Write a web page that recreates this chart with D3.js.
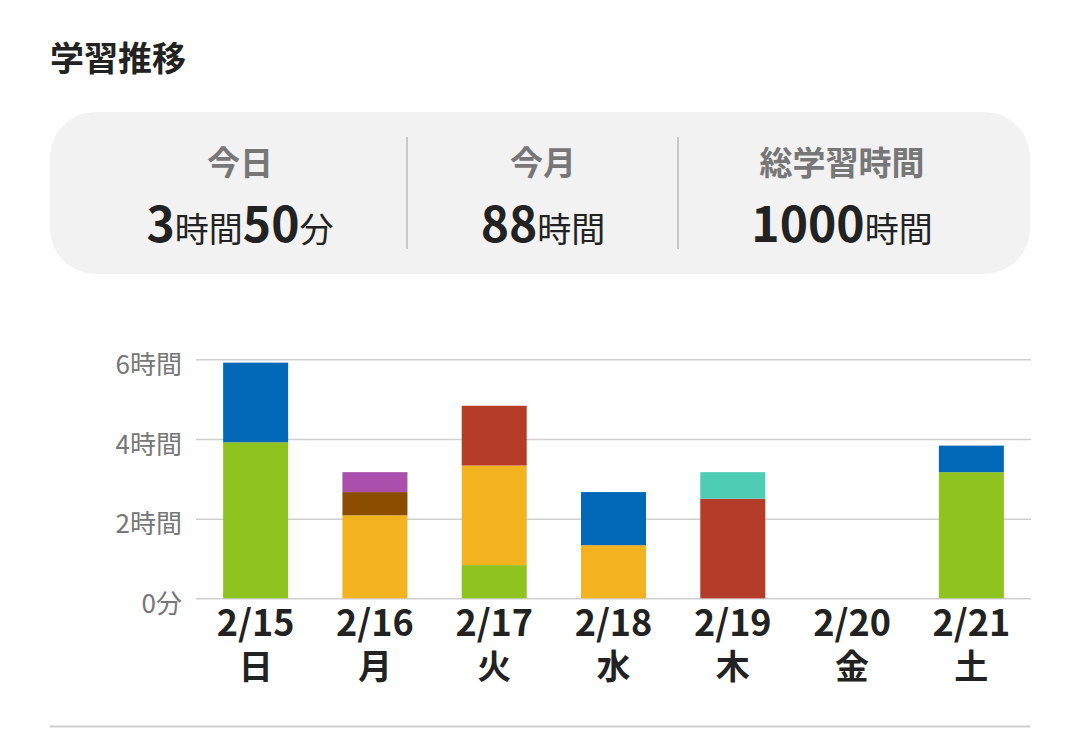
<!DOCTYPE html>
<html lang="ja">
<head>
<meta charset="utf-8">
<title>学習推移</title>
<script src="https://cdn.jsdelivr.net/npm/d3@7"></script>
<style>
  html, body { margin: 0; padding: 0; background: #fff; }
  svg { display: block; font-family: "Noto Sans CJK JP", "Noto Sans", sans-serif; }
</style>
</head>
<body>
<div id="chart"></div>
<script>
// summary card
const summaryLabels = ["今日", "今月", "総学習時間"];
const summaryValues = [
    [["3", "時間"], ["50", "分"]],
    [["88", "時間"]],
    [["1000", "時間"]]
];

// chart data (minutes per day, one array per colour)
const dates = ["2/15", "2/16", "2/17", "2/18", "2/19", "2/20", "2/21"];
const weekdays = ["日", "月", "火", "水", "木", "金", "土"];
const seriesKeys = ["green", "orange", "red", "brown", "purple", "blue", "teal"];
const greenMin  = [235, 0,   50,  0,  0,   0, 190];
const orangeMin = [0,   125, 150, 80, 0,   0, 0];
const redMin    = [0,   0,   90,  0,  150, 0, 0];
const brownMin  = [0,   35,  0,   0,  0,   0, 0];
const purpleMin = [0,   30,  0,   0,  0,   0, 0];
const blueMin   = [120, 0,   0,   80, 0,   0, 40];
const tealMin   = [0,   0,   0,   0,  40,  0, 0];
const yTicks = [0, 120, 240, 360];
const yTickLabels = ["0分", "2時間", "4時間", "6時間"];

const width = 1078;
const height = 736;

const svg = d3.select("#chart")
    .append("svg")
    .attr("width", width)
    .attr("height", height);

// Title
svg.append("text")
    .attr("x", 50)
    .attr("y", 71)
    .attr("font-size", 34)
    .attr("font-weight", "bold")
    .attr("fill", "#222")
    .text("学習推移");

// Summary card
svg.append("rect")
    .attr("x", 50)
    .attr("y", 112)
    .attr("width", 980)
    .attr("height", 162)
    .attr("rx", 46)
    .attr("fill", "#f2f2f2");

const colCenters = [240, 543, 842];
[407, 678].forEach(x => {
    svg.append("line")
        .attr("x1", x).attr("x2", x)
        .attr("y1", 137).attr("y2", 249)
        .attr("stroke", "#c8c8c8")
        .attr("stroke-width", 2);
});

summaryLabels.forEach((label, i) => {
    svg.append("text")
        .attr("x", colCenters[i])
        .attr("y", 175)
        .attr("text-anchor", "middle")
        .attr("font-size", 33)
        .attr("font-weight", "bold")
        .attr("fill", "#777")
        .text(label);

    const t = svg.append("text")
        .attr("x", colCenters[i])
        .attr("y", 242)
        .attr("text-anchor", "middle")
        .attr("fill", "#222");
    summaryValues[i].forEach(([num, unit]) => {
        t.append("tspan").attr("font-size", 48).attr("font-weight", "bold").text(num);
        t.append("tspan").attr("font-size", 34).attr("font-weight", "normal").text(unit);
    });
});

// Chart
const data = dates.map((d, i) => ({
    date: d,
    green: greenMin[i],
    orange: orangeMin[i],
    red: redMin[i],
    brown: brownMin[i],
    purple: purpleMin[i],
    blue: blueMin[i],
    teal: tealMin[i]
}));

const plot = { left: 196, right: 1031, top: 359.3, bottom: 598.3 };

const x = d3.scaleBand()
    .domain(dates)
    .range([plot.left, plot.right])
    .paddingInner(0.455)
    .paddingOuter(0.2275);

const y = d3.scaleLinear()
    .domain([0, 360])
    .range([plot.bottom, plot.top]);

const color = d3.scaleOrdinal()
    .domain(seriesKeys)
    .range(["#8fc31f", "#f3b220", "#b63c2a", "#8b4d00", "#ab4fac", "#0068b7", "#4dcdb3"]);

// y grid + labels
const yAxis = svg.append("g")
    .attr("transform", `translate(${plot.left},0)`)
    .call(d3.axisLeft(y)
        .tickValues(yTicks)
        .tickFormat((d, i) => yTickLabels[i])
        .tickSize(-(plot.right - plot.left))
        .tickPadding(14));
yAxis.select(".domain").remove();
yAxis.selectAll(".tick line")
    .attr("stroke", "#cfcfcf")
    .attr("stroke-width", 1.5);
yAxis.selectAll(".tick text")
    .attr("font-family", "Noto Sans CJK JP")
    .attr("font-size", 26)
    .attr("fill", "#777")
    .attr("dy", "0.55em");

// stacked bars
const stack = d3.stack().keys(seriesKeys);
const layers = stack(data);

svg.append("g")
    .selectAll("g")
    .data(layers)
    .enter()
    .append("g")
    .attr("fill", d => color(d.key))
    .selectAll("rect")
    .data(d => d.filter(s => s[1] > s[0]))
    .enter()
    .append("rect")
    .attr("x", d => x(d.data.date))
    .attr("width", x.bandwidth())
    .attr("y", d => y(d[1]))
    .attr("height", d => y(d[0]) - y(d[1]));

// x axis labels (date + weekday, two lines)
const xAxis = svg.append("g")
    .attr("transform", `translate(0,${plot.bottom})`)
    .call(d3.axisBottom(x).tickSize(0).tickPadding(0));
xAxis.select(".domain").remove();
xAxis.selectAll(".tick text")
    .attr("y", 38)
    .attr("dy", null)
    .attr("font-family", "Noto Sans CJK JP")
    .attr("font-size", 36)
    .attr("font-weight", "bold")
    .attr("fill", "#222");
xAxis.selectAll(".tick").append("text")
    .attr("y", 81)
    .attr("text-anchor", "middle")
    .attr("font-family", "Noto Sans CJK JP")
    .attr("font-size", 34)
    .attr("font-weight", "bold")
    .attr("fill", "#222")
    .text((d, i) => weekdays[i]);

// bottom separator
svg.append("line")
    .attr("x1", 50).attr("x2", 1030)
    .attr("y1", 726.5).attr("y2", 726.5)
    .attr("stroke", "#cfcfcf")
    .attr("stroke-width", 2);
</script>
</body>
</html>
